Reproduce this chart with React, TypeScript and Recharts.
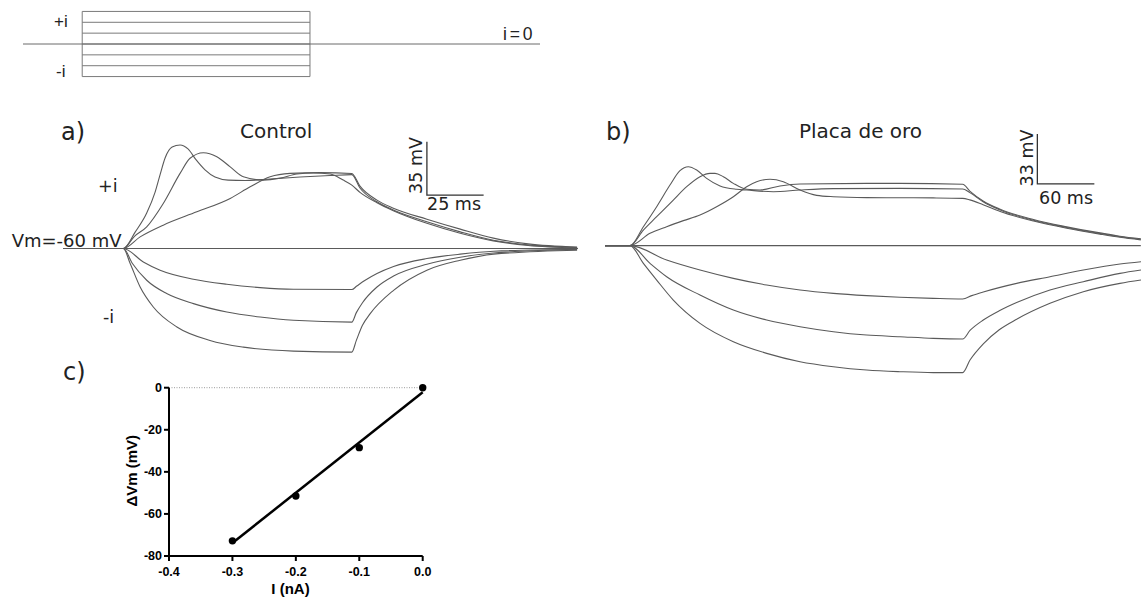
import React from "react";
import {
  LineChart,
  Line,
  XAxis,
  YAxis,
  ScatterChart,
  Scatter,
  ReferenceLine,
} from "recharts";

// ---------- data (t in ms, v in mV) ----------

// stimulus protocol: current steps (nA) and pulse timing (ms)
const protocolLevels = [0.3, 0.2, 0.1, 0, -0.1, -0.2, -0.3];
const protocolPulse = [26, 126];
const protocolSweep = [0, 227];

// a) Control
const controlPos3 = [
  [0, -60], [26.6, -60], [31.8, -49.3], [36.9, -36.8], [40.6, -23.1], [42.8, -11.6], [45.0, -0.7],
  [48.1, 6.5], [51.6, 7.8], [55.1, 5.2], [58.7, -2.0], [62.6, -8.5], [67.0, -13.2], [72.8, -15.2],
  [80.3, -15.5], [91.3, -14.5], [104.5, -13.2], [117.8, -12.2], [127.3, -11.6], [130.9, -20.4],
  [138.4, -29.4], [145.6, -34.8], [160.4, -42.5], [175.1, -49.1], [189.7, -54.6], [205, -57.6], [226.6, -59.3],
];
const controlPos2 = [
  [0, -60], [26.6, -60], [31.5, -52], [36.9, -45.8], [44.2, -30.5], [51.6, -10.8], [56.0, -0.9],
  [61.9, 2.7], [67.8, 0.1], [73.7, -6.5], [79.5, -13.0], [88.4, -15.2], [95.7, -13.9], [103.1, -11.2],
  [110.3, -10.5], [117.8, -11.2], [123.5, -15.2], [127.3, -18.5], [130.9, -23.2], [138.4, -30.0],
  [145.6, -35.2], [160.4, -43.5], [175.1, -50.0], [189.7, -55.0], [205, -58.0], [226.6, -59.6],
];
const controlPos1 = [
  [0, -60], [26.6, -60], [34.0, -52.4], [44.2, -44.7], [59.0, -36.0], [73.7, -27.2], [82.5, -19.6],
  [91.3, -13.0], [100.1, -10.8], [113.4, -10.3], [127.3, -10.9], [130.9, -19.1], [138.4, -28.3],
  [145.6, -33.6], [160.4, -40.8], [175.1, -47.3], [189.7, -53.2], [205, -57], [226.6, -59.1],
];
const controlZero = [[0, -60], [227, -60]];
const controlNeg1 = [
  [0, -60], [26.6, -60], [35.4, -68.8], [42.8, -74.2], [57.5, -80.1], [72.2, -83.4], [86.9, -85.6],
  [101.6, -86.7], [127.3, -86.9], [129.5, -84.6], [133.0, -81.0], [138.4, -76.4], [145.7, -71.8],
  [160.4, -66.6], [175.1, -63.7], [189.8, -61.8], [226.6, -60.5],
];
const controlNeg2 = [
  [0, -60], [26.6, -60], [30.6, -69.8], [36.9, -80.8], [45.7, -89.5], [57.5, -96.1], [72.2, -101.6],
  [86.9, -104.9], [101.6, -107.0], [127.3, -108.2], [129.3, -102.0], [132.0, -95.5], [138.4, -85.2],
  [145.7, -78.0], [160.4, -70.3], [175.1, -65.7], [189.8, -62.9], [226.6, -60.7],
];
const controlNeg3 = [
  [0, -60], [26.6, -60], [29.6, -69.8], [34.0, -85.2], [39.8, -98.3], [50.2, -111.4], [64.8, -120.2],
  [79.5, -124.6], [101.6, -127.2], [127.3, -127.9], [129.3, -120.2], [132.0, -110.3], [135.4, -102.7],
  [145.7, -87.4], [160.4, -74.2], [175.1, -67.7], [189.8, -63.7], [226.6, -61.1],
];
// 35 mV / 25 ms scale bar
const controlScaleBar = [[160.4, 10], [160.4, -25], [185.4, -25]];

// b) Placa de oro
const goldPos3 = [
  [0, -60], [26.3, -60], [40.4, -47.5], [54.4, -34.3], [68.4, -20.0], [78.9, -10.5], [87.7, -7.9],
  [96.5, -10.1], [107.0, -15.6], [121.1, -20.6], [138.6, -22.8], [149.1, -23.3], [177.2, -24.4],
  [205.3, -23.3], [240.4, -22.4], [310.5, -22.2], [376.5, -22.6], [384, -25], [398, -31], [416, -36.5],
  [451, -43.2], [486, -48], [521, -52], [542, -54.1], [564, -55.8],
];
const goldPos2 = [
  [0, -60], [26.3, -60], [40.4, -49.7], [54.4, -40.9], [71.9, -29.9], [86.0, -21.1], [100, -14.5],
  [110.5, -12.3], [115.8, -12.3], [124.6, -14.5], [135.1, -18.9], [149.1, -22.8], [163.2, -23.3],
  [184.2, -20.6], [205.3, -19.3], [275.4, -18.9], [310.5, -18.9], [376.5, -19.5], [384, -24],
  [398, -30.5], [416, -36], [451, -42.8], [486, -47.6], [521, -51.6], [542, -53.8], [564, -55.5],
];
const goldPos1 = [
  [0, -60], [26.3, -60], [47.4, -51.9], [64.9, -47.5], [82.5, -43.5], [100, -39.8], [117.5, -34.3],
  [135.1, -27.7], [149.1, -21.1], [159.6, -17.8], [173.7, -16.2], [187.7, -17.8], [205.3, -23.3],
  [222.8, -26.8], [240.4, -27.7], [275.4, -28.3], [345.6, -28.5], [376.5, -28.8], [384, -29.8],
  [398, -33], [416, -37.5], [451, -43.8], [486, -48.5], [521, -52.4], [542, -54.5], [564, -56.2],
];
const goldZero = [[0, -60], [564, -60]];
const goldNeg1 = [
  [0, -60], [26.3, -60], [64.9, -69.5], [100, -76.1], [135.1, -81.6], [170.2, -86.0], [205.3, -89.3],
  [240.4, -91.5], [275.4, -93.0], [310.5, -94.1], [345.6, -94.8], [376.5, -95.2], [386, -93.0],
  [398.2, -90.6], [433.3, -84.9], [468.4, -80.5], [503.5, -76.1], [542.1, -72.1], [564.2, -70.6],
];
const goldNeg2 = [
  [0, -60], [26.3, -60], [47.4, -71.7], [64.9, -80.5], [100, -92.6], [135.1, -102.5], [170.2, -109.1],
  [205.3, -113.5], [240.4, -116.8], [275.4, -119.0], [310.5, -120.1], [345.6, -121.2], [376.5, -121.6],
  [384.2, -116.0], [398.2, -109.1], [415, -103.0], [433.3, -97.6], [468.4, -89.3], [503.5, -83.8],
  [542.1, -78.3], [564.2, -76.1],
];
const goldNeg3 = [
  [0, -60], [26.3, -60], [40.4, -71.7], [54.4, -82.7], [71.9, -95.9], [100, -111.3], [135.1, -123.4],
  [170.2, -131.1], [205.3, -136.6], [240.4, -139.9], [275.4, -142.1], [310.5, -143.2], [345.6, -143.8],
  [376.5, -143.8], [384.2, -135.5], [398.2, -124.8], [415, -115.5], [433.3, -108.6], [468.4, -98.1],
  [503.5, -90.4], [542.1, -84.9], [564.2, -82.7],
];
// 33 mV / 60 ms scale bar
const goldScaleBar = [[455.1, 13.7], [455.1, -19.3], [515.1, -19.3]];

// c) I-V relation
const ivCurrent = [0, -0.1, -0.2, -0.3];
const ivDeltaV = [0, -28.5, -51.5, -72.8];
const fitCurrent = [-0.3, 0];
const fitDeltaV = [-73.8, -2.2];
const ivXTicks = [-0.4, -0.3, -0.2, -0.1, 0];
const ivYTicks = [0, -20, -40, -60, -80];

// ---------- helpers ----------
const pts = (a: number[][]) => a.map(([t, v]) => ({ t, v }));

const TRACE = "#5a5a5a";
const INK = "#222";
const DV = "DejaVu Sans";
const LS = "Liberation Sans";

function traceLines(sets: number[][][], prefix: string) {
  return sets.map((s, i) => (
    <Line
      key={prefix + i}
      data={pts(s)}
      dataKey="v"
      type="monotone"
      dot={false}
      activeDot={false}
      stroke={TRACE}
      strokeWidth={1.1}
      isAnimationActive={false}
    />
  ));
}

function scaleBar(data: number[][], key: string) {
  return (
    <Line
      key={key}
      data={pts(data)}
      dataKey="v"
      type="linear"
      dot={false}
      activeDot={false}
      stroke="#333"
      strokeWidth={1.3}
      isAnimationActive={false}
    />
  );
}

const noMargin = { top: 0, right: 0, bottom: 0, left: 0 };

function Protocol() {
  const steps = protocolLevels.map((lv) => [
    [protocolPulse[0], lv],
    [protocolPulse[1], lv],
  ]);
  const lo = Math.min(...protocolLevels);
  const hi = Math.max(...protocolLevels);
  const edges = protocolPulse.map((t) => [
    [t, lo],
    [t, hi],
  ]);
  const base = [
    [protocolSweep[0], 0],
    [protocolSweep[1], 0],
  ];
  return (
    <LineChart width={517} height={76} margin={noMargin}>
      <XAxis type="number" dataKey="t" domain={protocolSweep} hide />
      <YAxis type="number" domain={[-0.35, 0.35]} hide />
      {[...steps, ...edges].map((s, i) => (
        <Line
          key={"p" + i}
          data={pts(s)}
          dataKey="v"
          type="linear"
          dot={false}
          activeDot={false}
          stroke="#7a7a7a"
          strokeWidth={1}
          isAnimationActive={false}
        />
      ))}
      <Line
        data={pts(base)}
        dataKey="v"
        type="linear"
        dot={false}
        activeDot={false}
        stroke="#6a6a6a"
        strokeWidth={1}
        isAnimationActive={false}
      />
    </LineChart>
  );
}

function ControlTraces() {
  return (
    <LineChart width={515} height={229} margin={noMargin}>
      <XAxis type="number" dataKey="t" domain={[0, 227]} hide />
      <YAxis type="number" domain={[-135, 15]} hide />
      {traceLines(
        [controlZero, controlNeg1, controlNeg2, controlNeg3, controlPos1, controlPos2, controlPos3],
        "c"
      )}
      {scaleBar(controlScaleBar, "csb")}
    </LineChart>
  );
}

function GoldTraces() {
  return (
    <LineChart width={536} height={250} margin={noMargin}>
      <XAxis type="number" dataKey="t" domain={[0, 564]} hide />
      <YAxis type="number" domain={[-150, 15]} hide />
      {traceLines([goldZero, goldNeg1, goldNeg2, goldNeg3, goldPos1, goldPos2, goldPos3], "g")}
      {scaleBar(goldScaleBar, "gsb")}
    </LineChart>
  );
}

function IVPlot() {
  const points = ivCurrent.map((x, i) => ({ x, y: ivDeltaV[i] }));
  const fit = fitCurrent.map((x, i) => ({ x, y: fitDeltaV[i] }));
  const tick = { fill: "#000", fontSize: 12.5, fontWeight: 700, fontFamily: LS };
  const axis = { stroke: "#000", strokeWidth: 2 };
  return (
    <ScatterChart width={340} height={227} margin={{ top: 17.7, right: 17.3, bottom: 0, left: 0 }}>
      <XAxis
        type="number"
        dataKey="x"
        domain={[-0.4, 0]}
        ticks={ivXTicks}
        tickFormatter={(v: number) => v.toFixed(1)}
        tick={tick}
        axisLine={axis}
        tickLine={axis}
        tickSize={5}
        tickMargin={6}
        height={41}
      />
      <YAxis
        type="number"
        dataKey="y"
        domain={[-80, 0]}
        ticks={ivYTicks}
        tick={tick}
        axisLine={axis}
        tickLine={axis}
        tickSize={5}
        width={69}
      />
      <ReferenceLine y={0} stroke="#9a9a9a" strokeWidth={1} strokeDasharray="1 1.5" />
      <Scatter
        data={fit}
        line={{ stroke: "#000", strokeWidth: 2.5 }}
        shape={() => <g />}
        isAnimationActive={false}
      />
      <Scatter
        data={points}
        shape={(p: any) => <circle cx={p.cx} cy={p.cy} r={3.7} fill="#000" />}
        isAnimationActive={false}
      />
    </ScatterChart>
  );
}

function Labels() {
  const t = (x: number, y: number, s: string, size: number, extra: any = {}) => (
    <text x={x} y={y} fontFamily={DV} fontSize={size} fill={INK} {...extra}>
      {s}
    </text>
  );
  return (
    <svg
      width={1141}
      height={597}
      style={{ position: "absolute", left: 0, top: 0, pointerEvents: "none" }}
    >
      {t(54, 26.5, "+i", 17, { fontFamily: LS })}
      {t(56, 76.5, "-i", 17, { fontFamily: LS })}
      {t(503, 40, "i=0", 17.5, { fontFamily: LS, letterSpacing: 2.8 })}

      {t(61, 140, "a)", 24)}
      {t(240, 138.3, "Control", 20)}
      <text
        transform="translate(421.5,165.5) rotate(-90)"
        textAnchor="middle"
        fontFamily={DV}
        fontSize={17.5}
        fill={INK}
      >
        35 mV
      </text>
      {t(427, 210, "25 ms", 17.5)}
      {t(98, 191.7, "+i", 17.5)}
      {t(103, 323, "-i", 17.5)}
      {t(11.7, 246.7, "Vm=-60 mV", 18)}

      {t(606, 140, "b)", 24)}
      {t(799, 138.3, "Placa de oro", 20)}
      <text
        transform="translate(1033,158) rotate(-90)"
        textAnchor="middle"
        fontFamily={DV}
        fontSize={17.5}
        fill={INK}
      >
        33 mV
      </text>
      {t(1039, 203.5, "60 ms", 17.5)}

      {t(63, 380, "c)", 24)}
      <text
        transform="translate(137,470.8) rotate(-90)"
        textAnchor="middle"
        fontFamily={LS}
        fontWeight={700}
        fontSize={15}
        fill="#000"
      >
        ΔVm (mV)
      </text>
      <text x={290.5} y={593.5} textAnchor="middle" fontFamily={LS} fontWeight={700} fontSize={15} fill="#000">
        I (nA)
      </text>
    </svg>
  );
}

const at = (left: number, top: number): React.CSSProperties => ({ position: "absolute", left, top });

export default function App() {
  return (
    <div
      style={{
        position: "absolute",
        left: 0,
        top: 0,
        width: 1141,
        height: 597,
        overflow: "hidden",
        background: "#fff",
      }}
    >
      <div style={at(23, 5.7)}>
        <Protocol />
      </div>
      <div style={at(63, 134)}>
        <ControlTraces />
      </div>
      <div style={at(605, 132.1)}>
        <GoldTraces />
      </div>
      <div style={at(100, 370)}>
        <IVPlot />
      </div>
      <Labels />
    </div>
  );
}
